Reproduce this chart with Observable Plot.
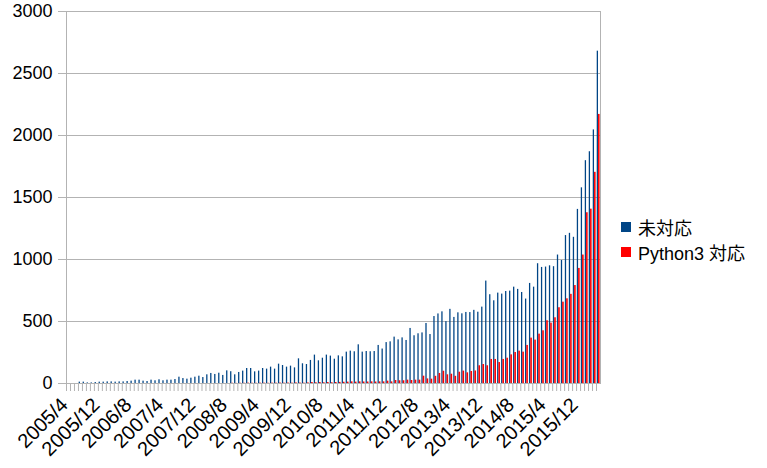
<!DOCTYPE html>
<html><head><meta charset="utf-8">
<script src="https://cdn.jsdelivr.net/npm/d3@7"></script>
<script src="https://cdn.jsdelivr.net/npm/@observablehq/plot@0.6"></script>
<style>
body{margin:0;background:#fff;}
#wrap{position:relative;width:767px;height:468px;font-family:"Liberation Sans",Arial,sans-serif;}
#legend{position:absolute;left:621px;top:214px;font-size:18px;color:#000;font-family:"Liberation Sans","Noto Sans CJK JP",sans-serif;}
.row{display:flex;align-items:center;height:25px;}
.sw{width:10px;height:10px;margin-right:7px;flex:none;}
</style></head><body><div id="wrap"><div id="legend"></div></div>
<script>
// categories: months 2005/4 .. 2016/5
const startYear = 2005, startMonth = 4, monthCount = 134;
const months = [];
for (let k = 0; k < monthCount; k++) {
  const t = (startMonth - 1) + k;
  months.push(`${startYear + Math.floor(t / 12)}/${(t % 12) + 1}`);
}
const seriesNames = ["未対応", "Python3 対応"];
const seriesColors = ["#004586", "#ff0000"];
const yTicks = [0, 500, 1000, 1500, 2000, 2500, 3000];

const unsupported = [
  0,0,0,11,11,5,5,8,11,11,
  13,13,11,13,13,16,19,27,27,19,
  16,27,22,30,22,27,27,32,51,40,
  35,43,51,59,48,70,81,73,83,65,
  102,95,70,89,100,121,121,94,100,121,
  116,132,116,156,145,132,140,126,199,159,
  153,186,229,183,204,229,221,196,223,215,
  253,261,256,312,253,258,256,258,307,278,
  330,336,374,352,368,347,444,385,401,408,
  484,395,540,561,578,499,598,533,570,562,
  573,572,590,575,616,826,716,667,729,721,
  742,745,777,759,734,681,807,777,966,936,
  939,949,942,1036,992,1193,1211,1179,1404,1578,
  1797,1869,2045,2680
];
const supported = [
  0,0,0,0,0,0,0,0,0,0,
  0,0,0,0,0,0,0,0,0,0,
  0,0,0,0,0,0,0,0,0,0,
  0,0,0,0,0,0,0,0,0,0,
  0,2,1,2,2,3,2,2,3,3,
  2,3,3,4,3,4,3,5,4,3,
  5,8,6,8,6,8,6,8,9,10,
  11,13,11,13,12,12,13,12,13,13,
  19,13,24,22,22,27,24,27,27,59,
  37,35,58,81,99,70,75,58,91,100,
  86,97,101,143,153,143,194,194,169,194,
  204,231,250,261,253,307,366,350,398,425,
  506,487,530,611,656,683,719,790,928,1036,
  1377,1406,1703,2170
];

const labelMonths = months.filter((d, i) => i % 8 === 0);
const bw = 534 / monthCount;

const chart = Plot.plot({
  width: 767, height: 468,
  marginLeft: 66, marginRight: 167, marginTop: 11, marginBottom: 85,
  style: {fontFamily: "'Liberation Sans', Arial, sans-serif", fontSize: "18px", color: "#000", background: "transparent"},
  x: {type: "band", domain: months, padding: 0, axis: null},
  y: {domain: [0, 3000], axis: null},
  marks: [
    Plot.ruleY(yTicks, {stroke: "#b3b3b3", strokeWidth: 1}),
    Plot.frame({stroke: "#b3b3b3"}),
    Plot.axisY({ticks: yTicks, tickFormat: d => String(d), tickSize: 8, tickPadding: 6, stroke: "#b3b3b3", fill: "#000", fontSize: 18}),
    Plot.axisX({ticks: months, tickSize: 8, tickFormat: () => "", stroke: "#b3b3b3", dx: -bw / 2}),
    Plot.axisX({ticks: labelMonths, tickSize: 0, tickPadding: 15, tickRotate: -45, fill: "#000", fontSize: 20, dx: -4, dy: 3}),
    Plot.barY(months, {x: d => d, y: (d, i) => unsupported[i], fill: seriesColors[0], insetLeft: 0.7, insetRight: 2.0}),
    Plot.barY(months, {x: d => d, y: (d, i) => supported[i], fill: seriesColors[1], insetLeft: 2.0, insetRight: 0.4}),
    Plot.ruleY([0], {stroke: "#b3b3b3"})
  ]
});
const wrap = document.getElementById("wrap");
wrap.insertBefore(chart, wrap.firstChild);

const legend = document.getElementById("legend");
seriesNames.forEach((name, i) => {
  const row = document.createElement("div");
  row.className = "row";
  row.innerHTML = `<div class="sw" style="background:${seriesColors[i]}"></div><span>${name}</span>`;
  legend.appendChild(row);
});
</script>
</body></html>
